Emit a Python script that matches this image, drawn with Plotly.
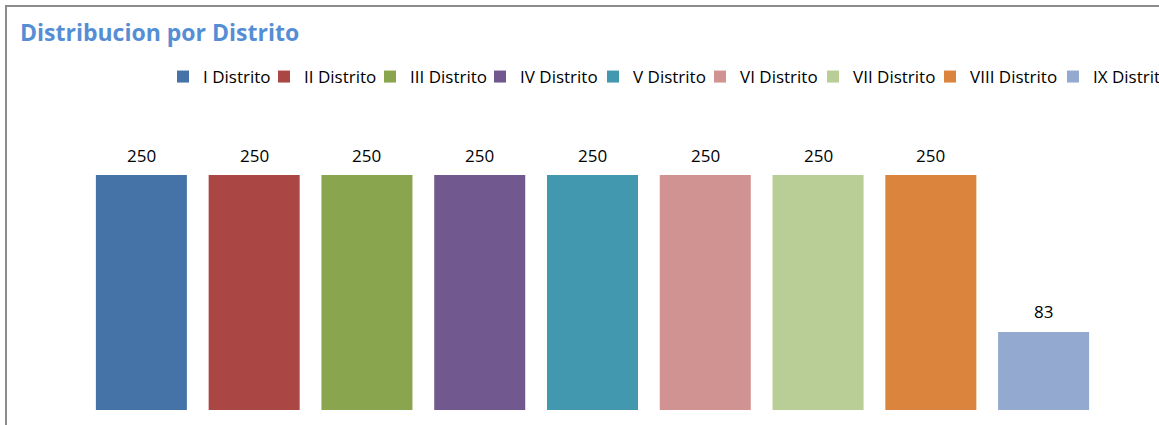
import plotly.graph_objects as go

districts = ["I Distrito", "II Distrito", "III Distrito", "IV Distrito", "V Distrito",
             "VI Distrito", "VII Distrito", "VIII Distrito", "IX Distrito"]
values = [250, 250, 250, 250, 250, 250, 250, 250, 83]
colors = ["#4572A7", "#AA4643", "#89A54E", "#71588F", "#4198AF",
          "#D19392", "#B9CD96", "#DB843D", "#93A9CF"]
# spacing of legend entries (px)
legend_widths = [56, 61, 65, 68, 62, 68, 72, 78, 90]

W, H = 1500, 425
PLOT_RIGHT = 1400
L, R, T, B = 85, W - PLOT_RIGHT, 110, 15
FONT = "Open Sans"
pw = W - L - R
ph = H - T - B
bar_pitch = (1100 - L) / 9.0
x_max = -0.5 + pw / bar_pitch

fig = go.Figure()
for name, val, col, lw in zip(districts, values, colors, legend_widths):
    fig.add_trace(go.Bar(x=[name], y=[val], name=name, marker=dict(color=col, line=dict(width=0)),
                         legendwidth=lw, hoverinfo="x+y"))
    fig.add_annotation(x=name, y=val, text=str(val), showarrow=False, yanchor="middle",
                       yshift=20, font=dict(family=FONT, size=17, color="#000000"))

fig.add_shape(type="rect", xref="paper", yref="paper",
              x0=(6 - L) / pw, x1=(W + 20 - L) / pw,
              y0=(-40 - B) / ph, y1=(H - 6 - B) / ph,
              line=dict(color="#8c8c8c", width=2), fillcolor="rgba(0,0,0,0)", layer="below")

fig.update_layout(
    width=W, height=H,
    margin=dict(l=L, r=R, t=T, b=B),
    paper_bgcolor="white", plot_bgcolor="white",
    barmode="overlay", bargap=0.193,
    showlegend=True,
    title=dict(text="<b>Distribucion por Distrito</b>", x=20 / W, xanchor="left",
               y=1 - 33 / H, yanchor="middle", yref="container",
               font=dict(family=FONT, size=23, color="#558ED5")),
    legend=dict(orientation="h", x=(163 - L) / pw, xanchor="left", y=(H - 77 - B) / ph,
                yanchor="middle", font=dict(family=FONT, size=17, color="#000000"),
                borderwidth=0, itemclick=False, itemdoubleclick=False, traceorder="normal"),
    xaxis=dict(visible=False, range=[-0.5, x_max], categoryorder="array", categoryarray=districts),
    yaxis=dict(visible=False, range=[0, 250 * ph / 235]),
)

fig.write_html("out.html", post_script="document.body.style.margin='0';")
